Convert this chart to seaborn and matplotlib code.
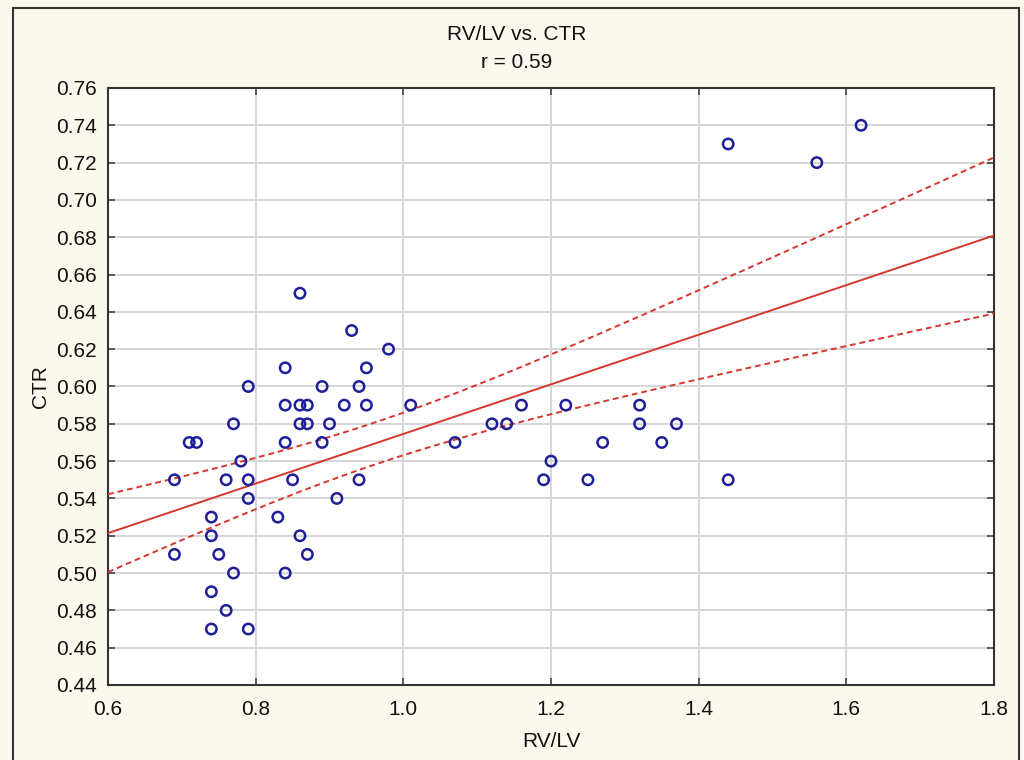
import numpy as np
import matplotlib
matplotlib.use("Agg")
import matplotlib.pyplot as plt
import seaborn as sns
from matplotlib.patches import Rectangle
from matplotlib.ticker import FormatStrFormatter

rv_lv = [0.79, 0.89, 0.94, 0.84, 0.86, 0.87, 0.92, 0.95, 1.01, 0.77,
         0.86, 0.87, 0.90, 0.71, 0.72, 0.84, 0.89, 1.07, 0.78, 0.69,
         0.76, 0.79, 0.85, 0.94, 0.79, 0.91, 0.74, 0.83, 0.74, 0.86,
         0.69, 0.75, 0.87, 0.77, 0.84, 0.74, 0.76, 0.74, 0.79, 0.86,
         0.93, 0.98, 0.84, 0.95, 1.16, 1.22, 1.32, 1.12, 1.14, 1.32,
         1.37, 1.27, 1.35, 1.20, 1.19, 1.25, 1.44, 1.44, 1.56, 1.62]
ctr = [0.60, 0.60, 0.60, 0.59, 0.59, 0.59, 0.59, 0.59, 0.59, 0.58,
       0.58, 0.58, 0.58, 0.57, 0.57, 0.57, 0.57, 0.57, 0.56, 0.55,
       0.55, 0.55, 0.55, 0.55, 0.54, 0.54, 0.53, 0.53, 0.52, 0.52,
       0.51, 0.51, 0.51, 0.50, 0.50, 0.49, 0.48, 0.47, 0.47, 0.65,
       0.63, 0.62, 0.61, 0.61, 0.59, 0.59, 0.59, 0.58, 0.58, 0.58,
       0.58, 0.57, 0.57, 0.56, 0.55, 0.55, 0.55, 0.73, 0.72, 0.74]

x_ticks = [0.6, 0.8, 1.0, 1.2, 1.4, 1.6, 1.8]
y_ticks = [0.44, 0.46, 0.48, 0.50, 0.52, 0.54, 0.56, 0.58, 0.60, 0.62,
           0.64, 0.66, 0.68, 0.70, 0.72, 0.74, 0.76]
title = "RV/LV vs. CTR"
subtitle = "r = 0.59"
x_label = "RV/LV"
y_label = "CTR"

sns.set_theme(style="white")
plt.rcParams['font.family'] = ['Liberation Sans', 'DejaVu Sans']

bg = "#fbf8ee"
fig = plt.figure(figsize=(10.24, 7.6), dpi=100, facecolor=bg)
ax = fig.add_axes([108/1024, 75/760, (994-108)/1024, (685-88)/760])
ax.set_facecolor("white")

# regression with 95% confidence band
x = np.array(rv_lv)
y = np.array(ctr)
n = len(x)
b1, b0 = np.polyfit(x, y, 1)
resid = y - (b0 + b1 * x)
s = np.sqrt(np.sum(resid**2) / (n - 2))
xm = x.mean()
sxx = np.sum((x - xm)**2)
xs = np.linspace(x_ticks[0], x_ticks[-1], 200)
yhat = b0 + b1 * xs
t = 2.0017
half = t * s * np.sqrt(1/n + (xs - xm)**2 / sxx)

red = "#d6362e"
sns.lineplot(x=xs, y=yhat, ax=ax, color=red, linewidth=1.4, zorder=3)
sns.lineplot(x=xs, y=yhat + half, ax=ax, color=red, linewidth=1.4,
             linestyle=(0, (3, 2)), zorder=3)
sns.lineplot(x=xs, y=yhat - half, ax=ax, color=red, linewidth=1.4,
             linestyle=(0, (3, 2)), zorder=3)

sns.scatterplot(x=rv_lv, y=ctr, ax=ax, marker='o', facecolor='none',
                edgecolor='#1f1f99', linewidth=1.8, s=56, zorder=4)

ax.set_xlim(x_ticks[0], x_ticks[-1])
ax.set_ylim(y_ticks[0], y_ticks[-1])
ax.set_xticks(x_ticks)
ax.set_yticks(y_ticks)
ax.xaxis.set_major_formatter(FormatStrFormatter('%.1f'))
ax.yaxis.set_major_formatter(FormatStrFormatter('%.2f'))
ax.grid(True, color="#d6d6d6", linewidth=1.4, zorder=0)
ax.set_axisbelow(True)
for sp in ax.spines.values():
    sp.set_color("#333333")
    sp.set_linewidth(1.5)
ax.tick_params(axis='both', which='both', direction='in', length=5, width=1.2,
               color="#444444", top=True, right=True, bottom=True, left=True,
               labelsize=15, labelcolor="#111111")
ax.tick_params(axis='x', pad=11)
ax.tick_params(axis='y', pad=8)

ax.set_xlabel(x_label, fontsize=15, color="#111111", labelpad=9)
ax.set_ylabel(y_label, fontsize=15, color="#111111", labelpad=4)

fig.text(517/1024, 1 - 35/760, title, ha='center', va='center', fontsize=15, color="#111111")
fig.text(517/1024, 1 - 62/760, subtitle, ha='center', va='center', fontsize=15, color="#111111")

fig.patches.append(Rectangle((13/1024, -0.05), (1019-13)/1024, (760-8)/760 + 0.05,
                             transform=fig.transFigure, fill=False,
                             edgecolor="#333333", linewidth=1.5))

fig.savefig("out.png", dpi=100, facecolor=bg)
